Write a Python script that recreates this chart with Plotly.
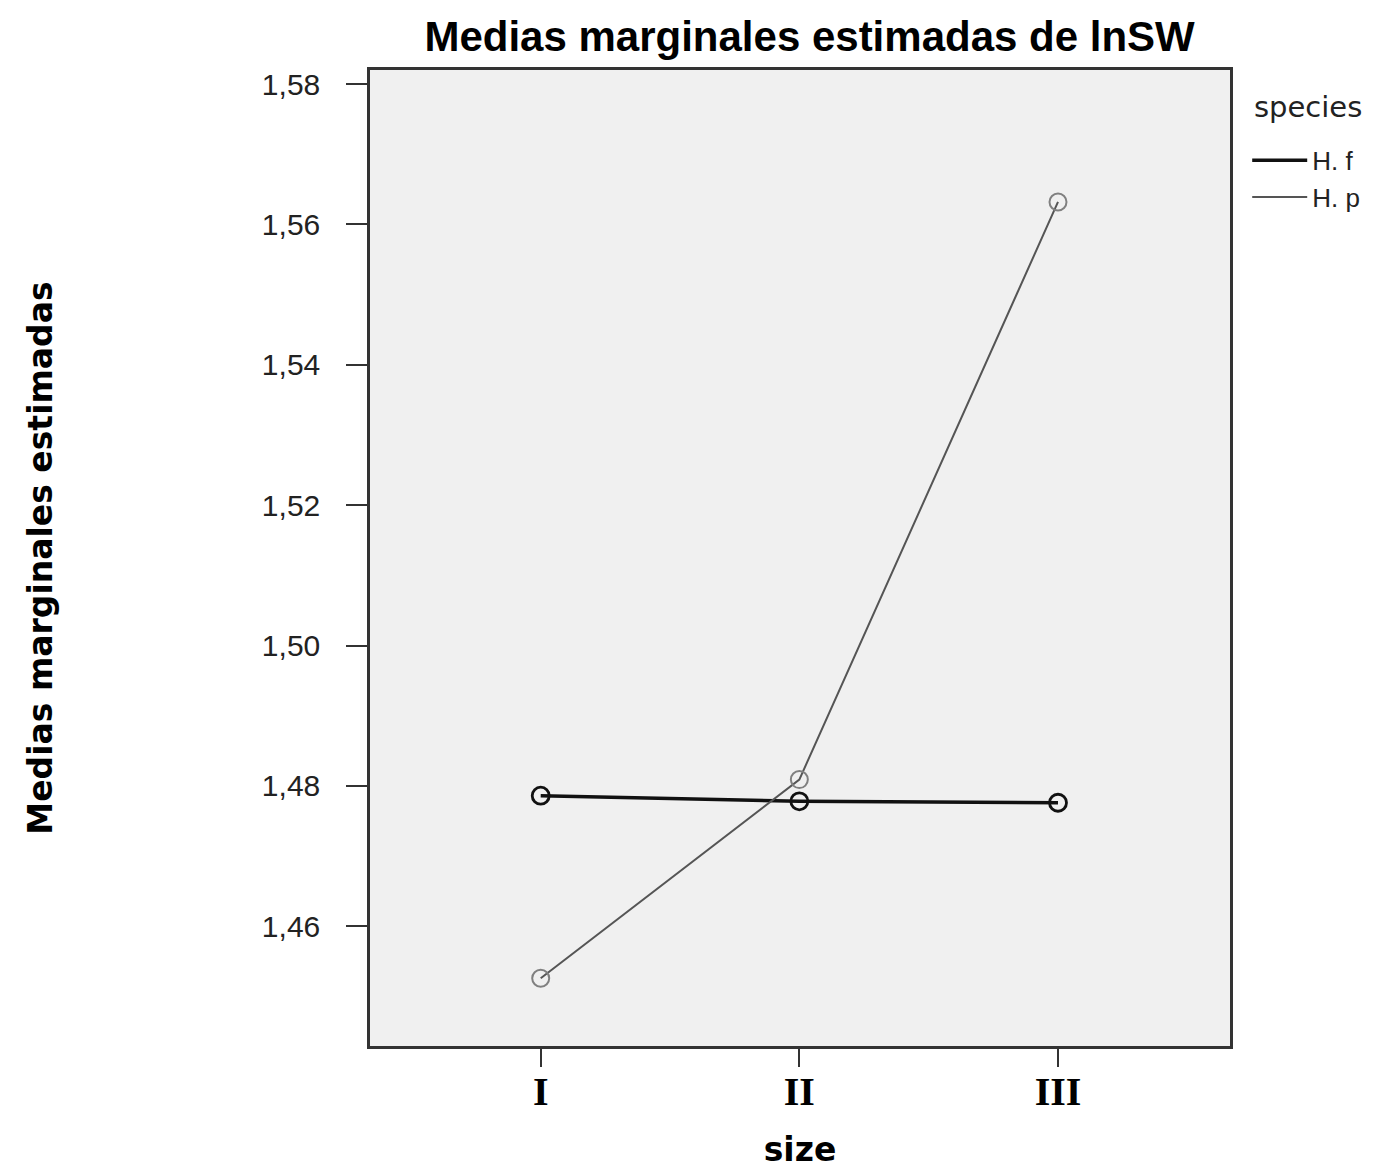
import plotly.graph_objects as go

sizes = ["I", "II", "III"]
hf_means = [1.4786, 1.4778, 1.4776]
hp_means = [1.4526, 1.4809, 1.5632]
y_ticks = [1.46, 1.48, 1.50, 1.52, 1.54, 1.56, 1.58]

fig = go.Figure()
x_idx = [0, 1, 2]

series = [
    ("H. f", hf_means, "#111111", 3.5, "#111111", 2.8),
    ("H. p", hp_means, "#555555", 2, "#808080", 2),
]
for name, vals, col, w, mcol, mw in series:
    fig.add_trace(go.Scatter(
        x=x_idx, y=vals, mode="lines", name=name,
        line=dict(color=col, width=w), legendgroup=name,
    ))
    fig.add_trace(go.Scatter(
        x=x_idx, y=vals, mode="markers", showlegend=False, legendgroup=name,
        marker=dict(symbol="circle-open", size=17, color=mcol, line=dict(width=mw, color=mcol)),
        hoverinfo="skip",
    ))

fig.add_annotation(
    text="species", xref="paper", yref="paper", x=1.0256, y=0.962,
    xanchor="left", yanchor="middle", showarrow=False,
    font=dict(family="DejaVu Sans", size=29, color="#222"),
)

fig.update_layout(
    width=1378, height=1175,
    margin=dict(l=370, r=148, t=70, b=127),
    paper_bgcolor="white", plot_bgcolor="#f0f0f0",
    separators=",.",
    title=dict(text="<b>Medias marginales estimadas de lnSW</b>",
               font=dict(family="Liberation Sans, Arial", size=42, color="black"),
               x=0.5875, xanchor="center", yref="container", y=0.982, yanchor="top"),
    showlegend=True,
    legend=dict(
        font=dict(family="Liberation Sans, Arial", size=26, color="#222"),
        x=1.02, xanchor="left", y=0.9315, yanchor="top",
        bgcolor="rgba(0,0,0,0)", itemwidth=55, tracegroupgap=0,
    ),
    xaxis=dict(
        range=[-0.66, 2.665], tickmode="array", tickvals=x_idx,
        ticktext=["<b>" + s + "</b>" for s in sizes],
        showgrid=False, zeroline=False,
        showline=True, linecolor="#333333", linewidth=2.5, mirror=True,
        ticks="outside", ticklen=18, tickwidth=2, tickcolor="#333333",
        ticklabelstandoff=-10,
        tickfont=dict(family="Liberation Serif, Times New Roman", size=40, color="black"),
        title=dict(text="<b>size</b>", font=dict(family="DejaVu Sans", size=33, color="black"), standoff=26),
    ),
    yaxis=dict(
        range=[1.44294, 1.582], tickmode="array", tickvals=y_ticks, tickformat=".2f",
        showgrid=False, zeroline=False,
        showline=True, linecolor="#333333", linewidth=2.5, mirror=True,
        ticks="outside", ticklen=21, tickwidth=2, tickcolor="#333333",
        ticklabelstandoff=20,
        tickfont=dict(family="Liberation Sans, Arial", size=30, color="#222"),
        title=dict(text="<b>Medias marginales estimadas</b>", font=dict(family="DejaVu Sans", size=33, color="black"), standoff=200),
    ),
)

fig.write_html("out.html")
